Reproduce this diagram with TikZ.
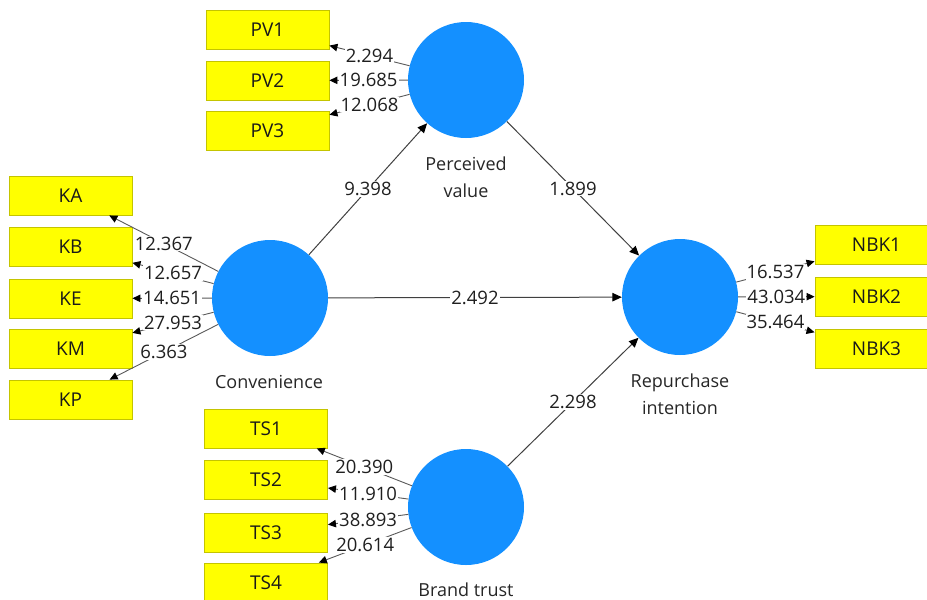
\documentclass[tikz,border=0pt]{standalone}
\usepackage{fontspec}
\setmainfont{Open Sans}
\usetikzlibrary{arrows.meta}
\definecolor{lvblue}{RGB}{20,144,255}
\definecolor{mvyellow}{RGB}{255,255,0}
\definecolor{mvborder}{RGB}{196,196,0}
\tikzset{
  lv/.style={circle, fill=lvblue, minimum size=116pt, inner sep=0pt},
  mv/.style={rectangle, fill=mvyellow, draw=mvborder, line width=0.9pt,
    minimum width=123pt, minimum height=39pt, inner sep=0pt,
    font=\fontsize{19}{23}\selectfont, text=black!90},
  lvtext/.style={align=center, font=\fontsize{18}{27}\selectfont, text=black!85},
  loadarrow/.style={draw=black!65, line width=0.9pt, -{Triangle[length=8pt,width=7.5pt,color=black]}},
  innerarrow/.style={draw=black!75, line width=1pt, -{Triangle[length=9.5pt,width=8.5pt,color=black]}},
  lab/.style={fill=white, inner sep=1pt, font=\fontsize{18.5}{22}\selectfont, text=black!88}
}
\begin{document}
\begin{tikzpicture}[x=1pt,y=-1pt]
\useasboundingbox (0,0) rectangle (927,600);
\clip (0,0) rectangle (927,600);
% latent variables
\node[lv] (pv) at (466,80) {};
\node[lv] (cv) at (270,298) {};
\node[lv] (ri) at (680,297) {};
\node[lv] (bt) at (466,507) {};
\node[lvtext] (pvt) at (466,177) {Perceived\\value};
\node[lvtext] (cvt) at (269,382) {Convenience};
\node[lvtext] (rit) at (680,394.5) {Repurchase\\intention};
\node[lvtext] (btt) at (466,590) {Brand trust};
% indicators
\node[mv] (pv1) at (267.5,30) {PV1};
\node[mv] (pv2) at (267.5,80.5) {PV2};
\node[mv] (pv3) at (267.5,130.5) {PV3};
\node[mv] (ka) at (70.5,195.5) {KA};
\node[mv] (kb) at (70.5,247) {KB};
\node[mv] (ke) at (70.5,298.5) {KE};
\node[mv] (km) at (70.5,348.5) {KM};
\node[mv] (kp) at (70.5,399.5) {KP};
\node[mv] (ts1) at (266,428.5) {TS1};
\node[mv] (ts2) at (266,479.5) {TS2};
\node[mv] (ts3) at (266,532.5) {TS3};
\node[mv] (ts4) at (266,582.5) {TS4};
\node[mv] (nbk1) at (876.5,245) {NBK1};
\node[mv] (nbk2) at (876.5,296.5) {NBK2};
\node[mv] (nbk3) at (876.5,348.5) {NBK3};
% loadings
\draw[loadarrow] (pv) -- node[lab] {2.294} (pv1);
\draw[loadarrow] (pv) -- node[lab] {19.685} (pv2);
\draw[loadarrow] (pv) -- node[lab] {12.068} (pv3);
\draw[loadarrow] (cv) -- node[lab] {12.367} (ka);
\draw[loadarrow] (cv) -- node[lab] {12.657} (kb);
\draw[loadarrow] (cv) -- node[lab] {14.651} (ke);
\draw[loadarrow] (cv) -- node[lab] {27.953} (km);
\draw[loadarrow] (cv) -- node[lab] {6.363} (kp);
\draw[loadarrow] (bt) -- node[lab] {20.390} (ts1);
\draw[loadarrow] (bt) -- node[lab] {11.910} (ts2);
\draw[loadarrow] (bt) -- node[lab] {38.893} (ts3);
\draw[loadarrow] (bt) -- node[lab] {20.614} (ts4);
\draw[loadarrow] (ri) -- node[lab] {16.537} (nbk1);
\draw[loadarrow] (ri) -- node[lab] {43.034} (nbk2);
\draw[loadarrow] (ri) -- node[lab] {35.464} (nbk3);
% structural paths
\draw[innerarrow] (cv) -- node[lab] {9.398} (pv);
\draw[innerarrow] (pv) -- node[lab] {1.899} (ri);
\draw[innerarrow] (cv) -- node[lab] {2.492} (ri);
\draw[innerarrow] (bt) -- node[lab] {2.298} (ri);
\end{tikzpicture}
\end{document}
